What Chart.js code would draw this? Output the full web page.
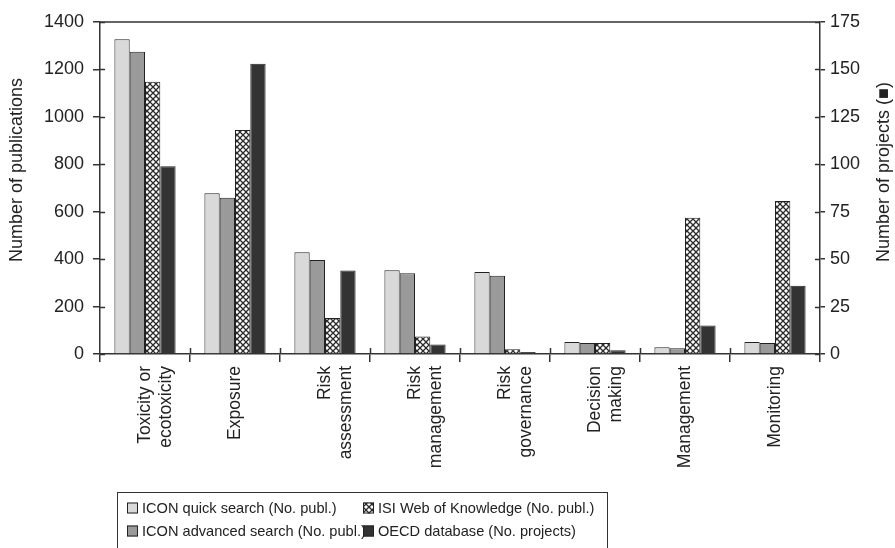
<!DOCTYPE html>
<html>
<head>
<meta charset="utf-8">
<script src="https://cdn.jsdelivr.net/npm/chart.js@4"></script>
<style>
  html, body { margin: 0; padding: 0; background: #fff; }
  #wrap { width: 895px; height: 548px; position: relative; }
</style>
</head>
<body>
<div id="wrap"><canvas id="topicChart"></canvas></div>
<script>
let categories = [['Toxicity or', 'ecotoxicity'], 'Exposure', ['Risk', 'assessment'], ['Risk', 'management'],
	['Risk', 'governance'], ['Decision', 'making'], 'Management', 'Monitoring'];
let iconQuick = [1327, 678, 429, 353, 346, 51, 28, 51];
let iconAdvanced = [1275, 659, 396, 340, 330, 46, 24, 46];
let isiWok = [1148, 945, 152, 74, 20, 46, 575, 645];
let oecdProjects = [99, 153, 44, 5, 1, 2, 15, 36];
let pubTicks = [0, 1400, 200];
let projTicks = [0, 175, 25];

var ctx = document.getElementById('topicChart').getContext('2d');

// crosshatch fill for the ISI series
function makeHatch() {
	var c = document.createElement('canvas');
	c.width = 6; c.height = 6;
	var g = c.getContext('2d');
	g.fillStyle = '#fff';
	g.fillRect(0, 0, 6, 6);
	g.strokeStyle = '#2a2a2a';
	g.lineWidth = 1.3;
	g.beginPath();
	g.moveTo(-1, -1); g.lineTo(7, 7);
	g.moveTo(7, -1); g.lineTo(-1, 7);
	g.stroke();
	return ctx.createPattern(c, 'repeat');
}
var hatch = makeHatch();
var font = 'Liberation Sans, Arial, sans-serif';

var framePlugin = {
	id: 'frame',
	afterDraw: function (chart) {
		var c = chart.ctx, a = chart.chartArea;
		var sx = chart.scales.x, sy = chart.scales.y, sy1 = chart.scales.y1;
		c.save();
		c.strokeStyle = '#333';
		c.lineWidth = 1.5;
		c.beginPath();
		// top border of plot
		c.moveTo(a.left, a.top);
		c.lineTo(a.right, a.top);
		// inner halves of the tick marks (ticks cross the axes)
		for (var i = 1; i < sx.ticks.length; i++) {
			var bx = Math.round((sx.getPixelForTick(i - 1) + sx.getPixelForTick(i)) / 2) + 0.5;
			c.moveTo(bx, a.bottom);
			c.lineTo(bx, a.bottom - 6);
		}
		sy.ticks.forEach(function (t, k) {
			var py = Math.round(sy.getPixelForTick(k)) + 0.5;
			c.moveTo(a.left, py); c.lineTo(a.left + 5, py);
		});
		sy1.ticks.forEach(function (t, k) {
			var py = Math.round(sy1.getPixelForTick(k)) + 0.5;
			c.moveTo(a.right, py); c.lineTo(a.right - 5, py);
		});
		c.stroke();

		// axis titles
		c.fillStyle = '#222';
		c.font = '18px ' + font;
		c.textAlign = 'center';
		c.textBaseline = 'middle';
		c.save();
		c.translate(17, 170);
		c.rotate(-Math.PI / 2);
		c.fillText('Number of publications', 0, 0);
		c.restore();
		c.save();
		c.translate(884, 172);
		c.rotate(-Math.PI / 2);
		c.fillText('Number of projects (\u25A0)', 0, 0);
		c.restore();

		// legend box, two columns
		c.lineWidth = 1;
		c.strokeRect(117.5, 492.5, 490, 70);
		var spots = [[127, 508], [127, 531], [363, 508], [363, 531]];
		c.font = '14.6px ' + font;
		c.textAlign = 'left';
		chart.data.datasets.forEach(function (ds, i) {
			var p = spots[i];
			c.fillStyle = ds.backgroundColor;
			c.fillRect(p[0], p[1] - 5.5, 11, 11);
			c.strokeStyle = '#222';
			c.strokeRect(p[0] + 0.5, p[1] - 5, 10, 10);
			c.fillStyle = '#222';
			c.fillText(ds.label, p[0] + 15, p[1] + 1);
		});
		c.restore();
	}
};

var topicChart = new Chart(ctx, {
	type: 'bar',
	data: {
		labels: categories,
		datasets: [{
			label: 'ICON quick search (No. publ.)',
			data: iconQuick,
			backgroundColor: '#d9d9d9',
			yAxisID: 'y'
		}, {
			label: 'ICON advanced search (No. publ.)',
			data: iconAdvanced,
			backgroundColor: '#9a9a9a',
			yAxisID: 'y'
		}, {
			label: 'ISI Web of Knowledge (No. publ.)',
			data: isiWok,
			backgroundColor: hatch,
			yAxisID: 'y'
		}, {
			label: 'OECD database (No. projects)',
			data: oecdProjects,
			backgroundColor: '#333333',
			yAxisID: 'y1'
		}]
	},
	options: {
		responsive: true,
		maintainAspectRatio: false,
		animation: false,
		layout: { padding: { top: 22, left: 0, right: 0, bottom: 0 } },
		datasets: {
			bar: {
				borderColor: '#222',
				borderWidth: 1,
				categoryPercentage: 0.68,
				barPercentage: 1.0
			}
		},
		plugins: {
			legend: { display: false },
			tooltip: { enabled: false }
		},
		scales: {
			x: {
				grid: { offset: true, drawOnChartArea: false, tickLength: 8, color: '#333', lineWidth: 1.5 },
				border: { color: '#333', width: 1.5 },
				ticks: {
					minRotation: 90, maxRotation: 90, padding: 4, color: '#222',
					font: { size: 17.5, family: font }
				},
				afterFit: function (s) { s.height = 194; }
			},
			y: {
				position: 'left',
				min: pubTicks[0], max: pubTicks[1],
				ticks: {
					stepSize: pubTicks[2], padding: 9, color: '#222', font: { size: 18, family: font },
					callback: function (v) { return String(v); }
				},
				grid: { drawOnChartArea: false, tickLength: 7, color: '#333', lineWidth: 1.5 },
				border: { color: '#333', width: 1.5 },
				afterFit: function (s) { s.width = 100; }
			},
			y1: {
				position: 'right',
				min: projTicks[0], max: projTicks[1],
				ticks: {
					stepSize: projTicks[2], padding: 5, color: '#222', font: { size: 18, family: font },
					callback: function (v) { return String(v); }
				},
				grid: { drawOnChartArea: false, tickLength: 5, color: '#333', lineWidth: 1.5 },
				border: { color: '#333', width: 1.5 },
				afterFit: function (s) { s.width = 75; }
			}
		}
	},
	plugins: [framePlugin]
});

function resizeChart() {
	topicChart.resize();
}

window.addEventListener('resize', resizeChart);
</script>
</body>
</html>
